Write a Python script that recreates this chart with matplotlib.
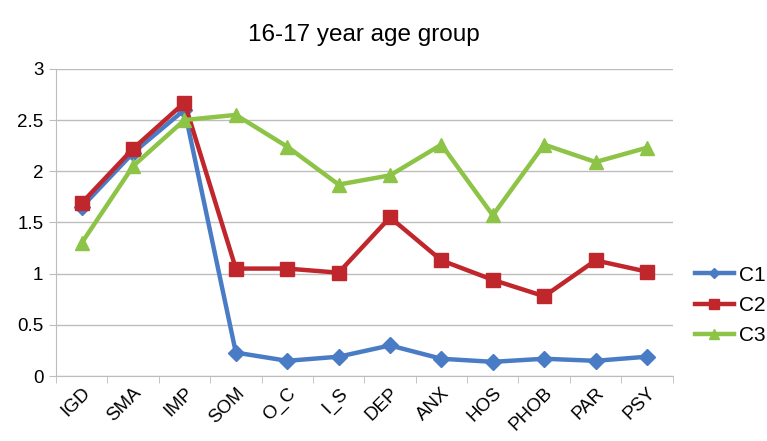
import numpy as np
import matplotlib
matplotlib.use("Agg")
import matplotlib.pyplot as plt

plt.rcParams['font.family'] = ['Liberation Sans', 'DejaVu Sans']

categories = ['IGD', 'SMA', 'IMP', 'SOM', 'O_C', 'I_S', 'DEP', 'ANX', 'HOS', 'PHOB', 'PAR', 'PSY']
c1 = [1.65, 2.18, 2.60, 0.23, 0.15, 0.19, 0.30, 0.17, 0.14, 0.17, 0.15, 0.19]
c2 = [1.69, 2.22, 2.67, 1.05, 1.05, 1.01, 1.55, 1.13, 0.94, 0.78, 1.13, 1.02]
c3 = [1.30, 2.05, 2.50, 2.55, 2.24, 1.87, 1.96, 2.26, 1.57, 2.26, 2.09, 2.23]
series_names = ['C1', 'C2', 'C3']

fig = plt.figure(figsize=(7.67, 4.41), dpi=100)
ax = fig.add_axes([0.073, 0.147, 0.804, 0.697])

x = np.arange(len(categories))
ax.plot(x, c1, color='#4a7cc6', lw=3.2, marker='D', ms=8, label=series_names[0])
ax.plot(x, c2, color='#c0272d', lw=3.2, marker='s', ms=10, label=series_names[1])
ax.plot(x, c3, color='#8dc447', lw=3.2, marker='^', ms=10, label=series_names[2])

ax.set_xlim(-0.5, len(categories) - 0.5)
ax.set_ylim(0, 3)
ax.set_yticks(np.arange(0, 3.01, 0.5))
ax.set_yticklabels(['0', '0.5', '1', '1.5', '2', '2.5', '3'], fontsize=13.5)
ax.yaxis.grid(True, color='#bdbdbd', lw=1)
ax.set_axisbelow(True)

ax.set_xticks(x)
ax.set_xticklabels(categories, rotation=45, ha='right', rotation_mode='anchor', fontsize=13.5)
ax.tick_params(axis='x', length=0, pad=6)
ax.set_xticks(np.arange(-0.5, len(categories)), minor=True)
ax.tick_params(axis='x', which='minor', length=5, color='#bdbdbd', direction='out')
ax.tick_params(axis='y', length=5, color='#bdbdbd', pad=4)

for s in ['top', 'right']:
    ax.spines[s].set_visible(False)
for s in ['left', 'bottom']:
    ax.spines[s].set_color('#bdbdbd')

ax.set_title('16-17 year age group', fontsize=17.5, pad=20)
leg = ax.legend(loc='center left', bbox_to_anchor=(1.0, 0.23), frameon=False, fontsize=15,
                handlelength=1.9, labelspacing=0.55, handletextpad=0.25, markerscale=0.7,
                borderaxespad=0.65)

fig.savefig('out.png', dpi=100)
